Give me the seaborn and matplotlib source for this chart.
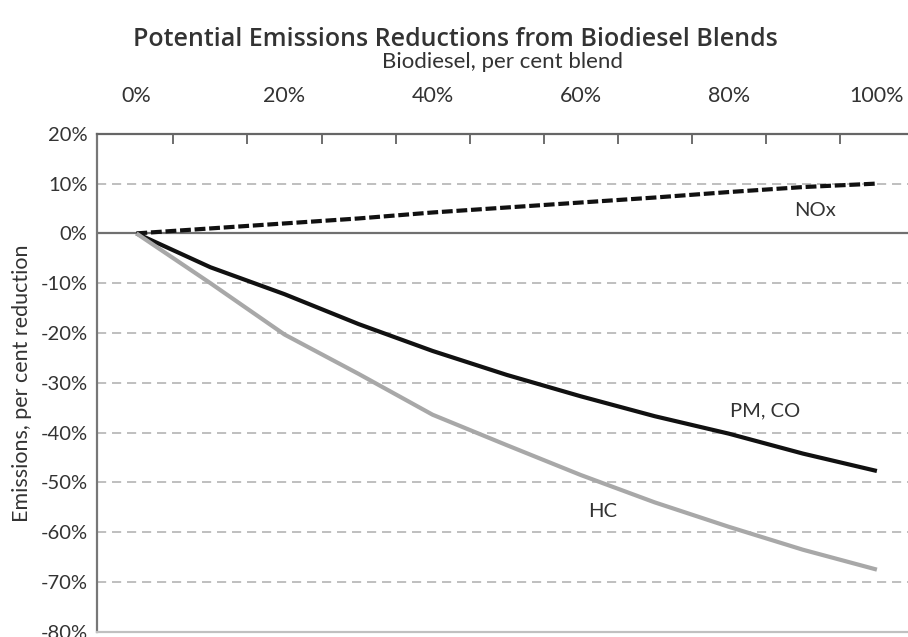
import numpy as np
import pandas as pd
import matplotlib
matplotlib.use("Agg")
import matplotlib.pyplot as plt
import seaborn as sns

# Blend level (% biodiesel) and change in emissions (%)
blend = [0, 10, 20, 30, 40, 50, 60, 70, 80, 90, 100]
nox = [0, 1.0, 2.0, 3.0, 4.2, 5.2, 6.2, 7.2, 8.3, 9.3, 10.0]
pm_co = [0, -6.8, -12.2, -18.2, -23.6, -28.4, -32.7, -36.7, -40.2, -44.2, -47.7]
hc = [0, -10.0, -20.3, -28.2, -36.4, -42.5, -48.5, -54.0, -58.9, -63.5, -67.5]

x_tick_values = [0, 20, 40, 60, 80, 100]
x_tick_labels = ["0%", "20%", "40%", "60%", "80%", "100%"]
y_tick_values = [20, 10, 0, -10, -20, -30, -40, -50, -60, -70, -80]
y_tick_labels = ["20%", "10%", "0%", "-10%", "-20%", "-30%", "-40%", "-50%", "-60%", "-70%", "-80%"]

df = pd.DataFrame({
    "blend": blend * 3,
    "change": nox + pm_co + hc,
    "pollutant": ["NOx"] * len(blend) + ["PM, CO"] * len(blend) + ["HC"] * len(blend),
})

sns.set_style("white")
plt.rcParams["font.family"] = ["Lato", "DejaVu Sans"]

fig = plt.figure(figsize=(9.08, 6.37), dpi=100)
ax = fig.add_axes([0.107, 0.008, 0.893, 0.782])

# reference gridlines
for v in [10, -10, -20, -30, -40, -50, -60, -70]:
    ax.axhline(v, color="#b4b4b4", lw=1.2, ls=(0, (5.5, 3.5)), zorder=1)
ax.axhline(0, color="#707070", lw=1.6, zorder=1)

styles = {
    "NOx": dict(color="#111111", lw=3.0, dashes=(2.6, 0.9)),
    "PM, CO": dict(color="#111111", lw=3.0),
    "HC": dict(color="#a8a8a8", lw=3.0),
}
for name, st in styles.items():
    sub = df[df["pollutant"] == name]
    line_kw = dict(color=st["color"], linewidth=st["lw"], ax=ax, legend=False, zorder=3)
    sns.lineplot(data=sub, x="blend", y="change", **line_kw)
    if "dashes" in st:
        ax.lines[-1].set_dashes(st["dashes"])
    ax.lines[-1].set_solid_capstyle("butt")

label_kw = dict(ha="center", va="center", fontsize=14.5, color="#333333")
ax.text(91.6, 4.6, "NOx", **label_kw)
ax.text(84.9, -35.6, "PM, CO", **label_kw)
ax.text(62.9, -55.8, "HC", **label_kw)

ax.set_xlim(-5.3, 104.2)
ax.set_ylim(-80, 20)

ax.xaxis.tick_top()
ax.xaxis.set_label_position("top")
ax.set_xticks(x_tick_values)
ax.set_xticklabels(x_tick_labels, fontsize=15.5, color="#333333")
ax.set_xticks(np.arange(5, 100, 10), minor=True)
ax.tick_params(axis="x", which="major", length=0, pad=20)
ax.tick_params(axis="x", which="minor", direction="in", length=7, width=1.2,
               color="#555555", top=True, bottom=False)
ax.set_yticks(y_tick_values)
ax.set_yticklabels(y_tick_labels, fontsize=14.5, color="#333333")
ax.tick_params(axis="y", length=0, pad=7)

ax.set_xlabel("Biodiesel, per cent blend", fontsize=16, color="#333333", labelpad=13)
ax.set_ylabel("Emissions, per cent reduction", fontsize=15.5, color="#333333", labelpad=6)

ax.spines["right"].set_visible(False)
ax.spines["top"].set_color("#666666")
ax.spines["top"].set_linewidth(1.6)
ax.spines["left"].set_color("#777777")
ax.spines["left"].set_linewidth(1.6)
ax.spines["bottom"].set_color("#c0c0c0")
ax.spines["bottom"].set_linewidth(1.6)

fig.text(0.501, 0.938, "Potential Emissions Reductions from Biodiesel Blends",
         ha="center", va="center", fontsize=18, fontweight="semibold",
         family=["Open Sans", "DejaVu Sans"], color="#333333")

fig.savefig("out.png", dpi=100)
